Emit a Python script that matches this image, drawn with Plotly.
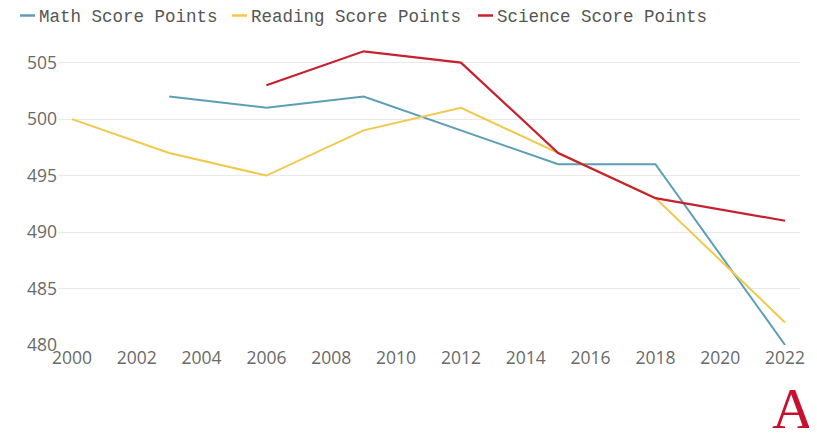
import plotly.graph_objects as go

math_years = [2003, 2006, 2009, 2012, 2015, 2018, 2022]
math_scores = [502, 501, 502, 499, 496, 496, 480]
reading_years = [2000, 2003, 2006, 2009, 2012, 2015, 2018, 2022]
reading_scores = [500, 497, 495, 499, 501, 497, 493, 482]
science_years = [2006, 2009, 2012, 2015, 2018, 2022]
science_scores = [503, 506, 505, 497, 493, 491]

x_ticks = list(range(2000, 2023, 2))
y_ticks = [480, 485, 490, 495, 500, 505]

names = ["Math Score Points", "Reading Score Points", "Science Score Points"]
colors = ["#5c9fb5", "#f0c94c", "#c8202f"]

# figure geometry (page body has an 8px margin)
W, H = 809, 436
L, R, T, B = 50, 17, 32, 99
PW, PH = W - L - R, H - T - B

def px(x):
    return (x - L) / PW

def py(y):
    return (H - B - y) / PH

fig = go.Figure()
for xs, ys, nm, c in [(math_years, math_scores, names[0], colors[0]),
                      (reading_years, reading_scores, names[1], colors[1]),
                      (science_years, science_scores, names[2], colors[2])]:
    fig.add_trace(go.Scatter(x=xs, y=ys, mode="lines", name=nm,
                             line=dict(color=c, width=2.2 if c == colors[2] else 2),
                             showlegend=False))

# custom legend (short line + monospace label)
leg_line_x = [12, 224, 470]
leg_y = 8.5
shapes = []
annotations = []
for lx, nm, c in zip(leg_line_x, names, colors):
    shapes.append(dict(type="line", xref="paper", yref="paper",
                       x0=px(lx), x1=px(lx + 15), y0=py(leg_y - 1), y1=py(leg_y - 1),
                       line=dict(color=c, width=2.5)))
    annotations.append(dict(text=nm, xref="paper", yref="paper", x=px(lx + 17), y=py(leg_y),
                            xanchor="left", yanchor="middle", showarrow=False,
                            font=dict(family="Liberation Mono", size=17.5, color="#555555")))

annotations.append(dict(text="A", x=px(785), y=py(H - 1), xref="paper", yref="paper",
                        showarrow=False, xanchor="center", yanchor="bottom",
                        font=dict(family="Liberation Serif", size=58, color="#c8102e")))

fig.update_layout(
    width=W, height=H,
    margin=dict(l=L, r=R, t=T, b=B, autoexpand=False),
    paper_bgcolor="white", plot_bgcolor="white",
    showlegend=False,
    xaxis=dict(range=[1999.57, 2022.46], tickvals=x_ticks, showgrid=False, zeroline=False,
               showline=False, ticks="", automargin=False,
               tickfont=dict(family="Open Sans", size=17.5, color="#6a6a6a")),
    yaxis=dict(range=[480, 507], tickvals=y_ticks, showgrid=True, gridcolor="#e9e9e9",
               gridwidth=1, zeroline=False, showline=False, ticks="", automargin=False,
               tickfont=dict(family="Open Sans", size=17.5, color="#6a6a6a")),
    shapes=shapes,
    annotations=annotations,
)
fig.write_html("out.html")
